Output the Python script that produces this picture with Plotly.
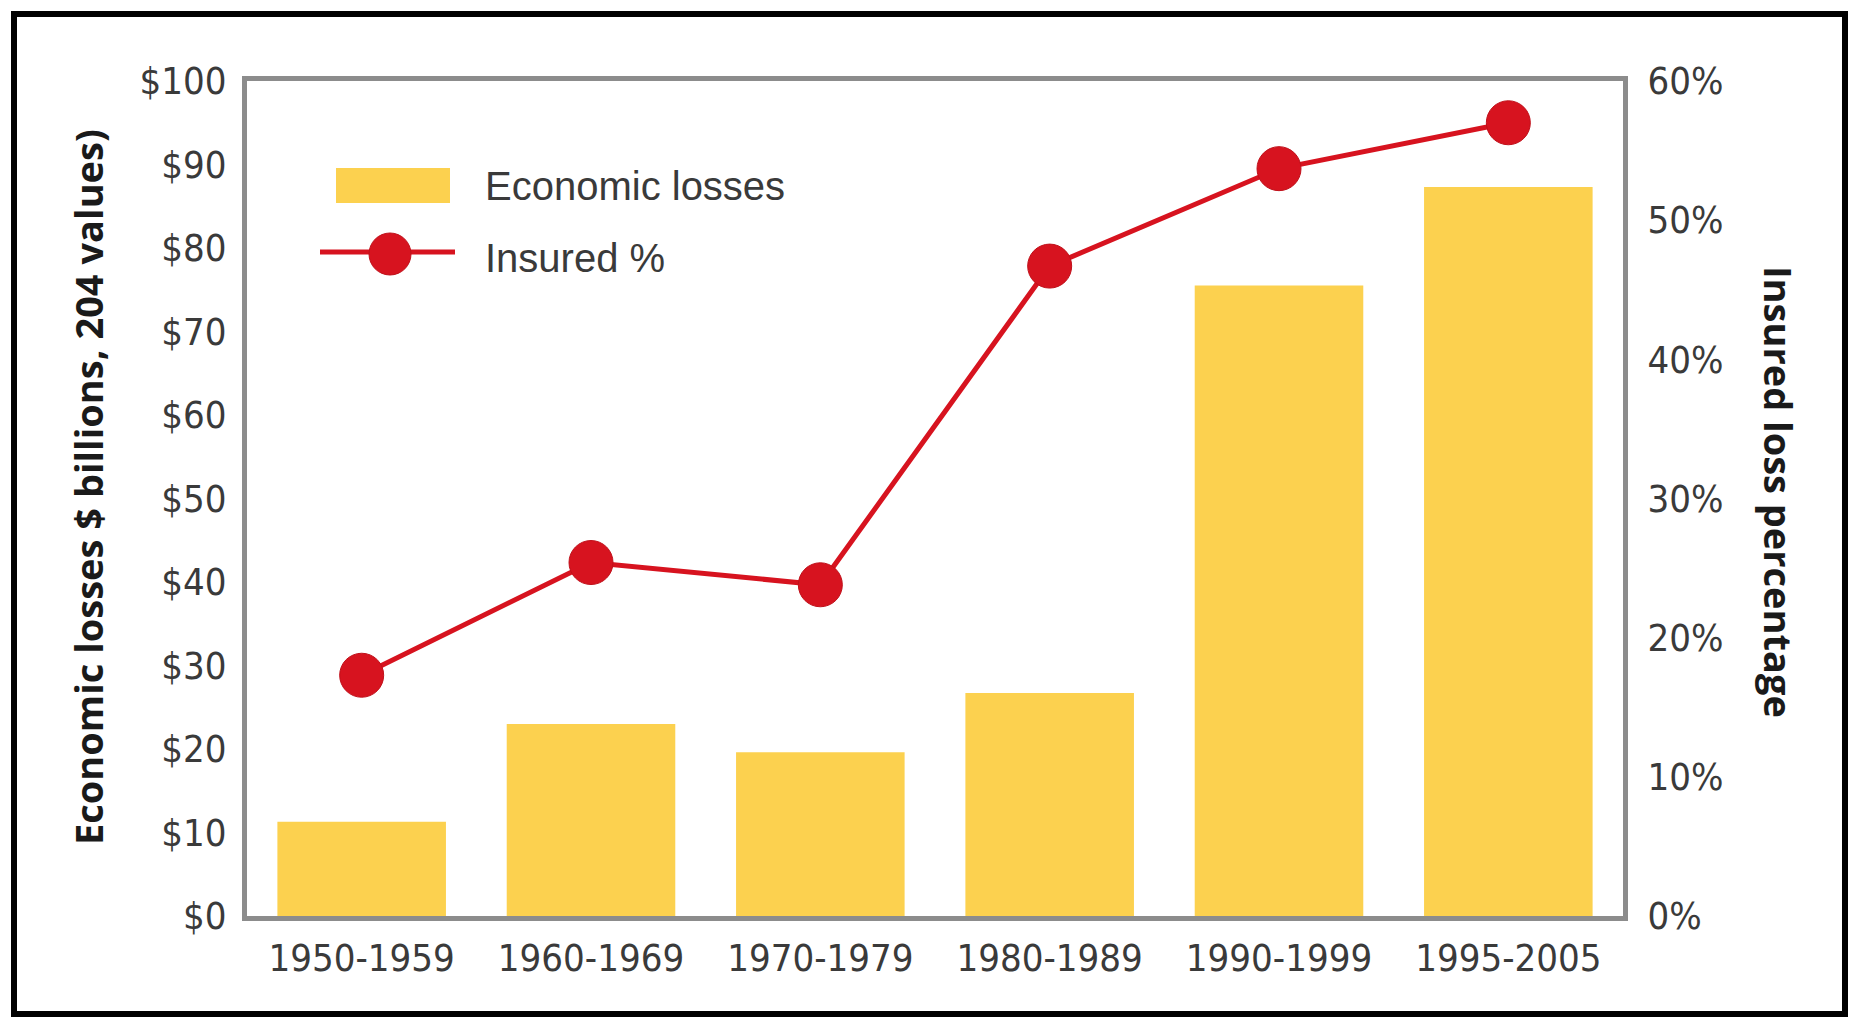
import plotly.graph_objects as go

# ---- data ----
periods = ["1950-1959", "1960-1969", "1970-1979", "1980-1989", "1990-1999", "1995-2005"]
economic_losses = [11.3, 23.0, 19.6, 26.7, 75.5, 87.3]      # $ billions
insured_pct = [17.3, 25.4, 23.8, 46.7, 53.7, 57.0]           # percent

left_ticks = [0, 10, 20, 30, 40, 50, 60, 70, 80, 90, 100]
left_ticklabels = ["$" + str(v) for v in left_ticks]
right_ticks = [0, 10, 20, 30, 40, 50, 60]
right_ticklabels = [str(v) + "%" for v in right_ticks]

# ---- style ----
W, H = 1860, 1020
L, R, T, B = 247, 1623, 81, 916          # plot area in pixels
BAR_COLOR = "#FCD14F"
RED = "#D7131F"
AXIS_GRAY = "#8C8C8C"
TXT = "#3a3a3a"
TICK_FONT = dict(family="Liberation Sans Narrow, DejaVu Sans Condensed, Arial Narrow, sans-serif",
                 size=38, color=TXT)
LEG_FONT = dict(family="Liberation Sans, Arial, sans-serif", size=40, color=TXT)
TITLE_FONT = dict(family="Open Sans, DejaVu Sans, sans-serif", size=38, color="#1a1a1a", weight=700)

pw, ph = R - L, B - T


def px(x):
    return (x - L) / pw


def py(y):
    return (B - y) / ph


fig = go.Figure()
fig.add_trace(go.Bar(x=periods, y=economic_losses, name="Economic losses",
                     marker=dict(color=BAR_COLOR, line=dict(width=0)), yaxis="y"))
fig.add_trace(go.Scatter(x=periods, y=insured_pct, name="Insured %", yaxis="y2",
                         mode="lines+markers",
                         line=dict(color=RED, width=5),
                         marker=dict(color=RED, size=44, line=dict(color="#C0101A", width=1))))

shapes = [
    # outer black frame
    dict(type="rect", xref="paper", yref="paper",
         x0=px(14), x1=px(1845), y0=py(1014), y1=py(14),
         line=dict(color="black", width=6), layer="below"),
    # legend: bar swatch
    dict(type="rect", xref="paper", yref="paper",
         x0=px(336), x1=px(450), y0=py(203), y1=py(168),
         fillcolor=BAR_COLOR, line=dict(width=0)),
    # legend: line swatch
    dict(type="line", xref="paper", yref="paper",
         x0=px(320), x1=px(455), y0=py(252), y1=py(252),
         line=dict(color=RED, width=5)),
    dict(type="circle", xref="paper", yref="paper",
         x0=px(390 - 21), x1=px(390 + 21), y0=py(254 + 21), y1=py(254 - 21),
         fillcolor=RED, line=dict(color="#C0101A", width=1)),
]

annotations = [
    dict(text="Economic losses", xref="paper", yref="paper", x=px(483), y=py(186),
         xanchor="left", yanchor="middle", showarrow=False, font=LEG_FONT),
    dict(text="Insured %", xref="paper", yref="paper", x=px(483), y=py(258),
         xanchor="left", yanchor="middle", showarrow=False, font=LEG_FONT),
    dict(text="Economic losses $ billions, 204 values)", xref="paper", yref="paper",
         x=px(88), y=py(487), textangle=-90, xanchor="center", yanchor="middle",
         showarrow=False, font=TITLE_FONT),
    dict(text="Insured loss percentage", xref="paper", yref="paper",
         x=px(1779), y=py(492), textangle=90, xanchor="center", yanchor="middle",
         showarrow=False, font=TITLE_FONT),
]

fig.update_layout(
    width=W, height=H,
    margin=dict(l=L, r=W - R, t=T, b=H - B, pad=0),
    paper_bgcolor="white", plot_bgcolor="white",
    showlegend=False,
    bargap=0.265,
    shapes=shapes,
    annotations=annotations,
    xaxis=dict(showgrid=False, zeroline=False, showline=True, linecolor=AXIS_GRAY,
               linewidth=5, mirror=True, ticks="", tickfont=TICK_FONT,
               ticklabelstandoff=4),
    yaxis=dict(range=[0, 100], tickvals=left_ticks, ticktext=left_ticklabels,
               showgrid=False, zeroline=False, showline=True, linecolor=AXIS_GRAY,
               linewidth=5, mirror=False, ticks="", tickfont=TICK_FONT,
               ticklabelstandoff=8),
    yaxis2=dict(range=[0, 60], tickvals=right_ticks, ticktext=right_ticklabels,
                overlaying="y", side="right", showgrid=False, zeroline=False,
                showline=True, linecolor=AXIS_GRAY, linewidth=5, ticks="",
                tickfont=TICK_FONT, ticklabelstandoff=12),
)

fig.write_html("out.html")
